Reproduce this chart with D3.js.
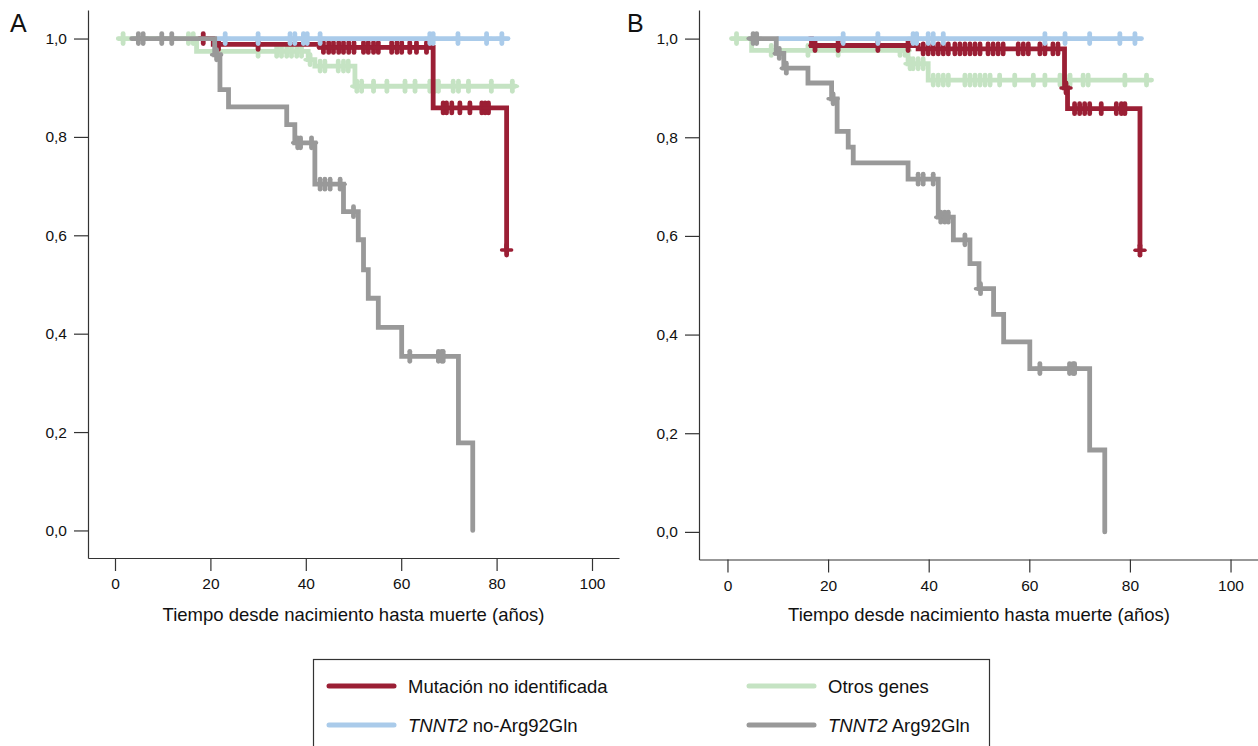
<!DOCTYPE html>
<html><head><meta charset="utf-8">
<script src="https://cdn.jsdelivr.net/npm/d3@7"></script>
<style>
body{margin:0;background:#fff;}
svg{display:block;font-family:Arial,"Liberation Sans",Helvetica,sans-serif;}
</style></head>
<body><svg id="c" width="1258" height="746"></svg>
<script>
// ---------- DATA ----------
const xTicks = [0, 20, 40, 60, 80, 100];
const yTicks = [0, 0.2, 0.4, 0.6, 0.8, 1.0];
const groupNames = ["Mutación no identificada", "Otros genes", "TNNT2 no-Arg92Gln", "TNNT2 Arg92Gln"];
const xTitle = "Tiempo desde nacimiento hasta muerte (años)";

// Panel A
const A_mut_t = [17.8, 20.6, 43.0, 66.7, 82.1];
const A_mut_s = [1.0, 0.988, 0.982, 0.859, 0.570];
const A_mut_end = 82.1;
const A_mut_c = [18.5, 21.7, 30.0, 43.7, 44.8, 45.8, 46.9, 47.9, 49.0, 50.1, 52.1, 53.1, 54.2, 55.2, 58.0, 59.1, 60.1, 61.8, 63.2, 65.3, 68.8, 69.5, 70.6, 72.3, 74.4, 76.9, 77.6, 78.3, 82.1];

const A_oth_t = [0.7, 17.1, 40.5, 41.9, 50.3];
const A_oth_s = [1.0, 0.974, 0.957, 0.944, 0.903];
const A_oth_end = 83.9;
const A_oth_c = [1.7, 15.4, 16.4, 30.0, 33.9, 34.9, 36.0, 37.0, 38.1, 39.1, 40.9, 43.0, 44.0, 46.8, 47.9, 48.9, 50.7, 51.7, 54.2, 57.0, 60.8, 62.9, 66.0, 67.1, 67.8, 70.9, 72.0, 74.1, 78.9, 83.3];

const A_tno_t = [21.3];
const A_tno_s = [1.0];
const A_tno_end = 82.4;
const A_tno_c = [23.1, 30.0, 36.7, 37.7, 39.5, 40.3, 43.0, 66.0, 66.7, 71.9, 77.9, 81.1];

const A_targ_t = [3.5, 20.9, 22.0, 23.8, 36.0, 37.7, 41.9, 47.9, 51.0, 52.1, 53.1, 55.2, 60.1, 72.0, 75.0];
const A_targ_s = [1.0, 0.967, 0.896, 0.861, 0.825, 0.788, 0.704, 0.648, 0.591, 0.530, 0.472, 0.413, 0.354, 0.178, 0.0];
const A_targ_end = 75.0;
const A_targ_c = [4.9, 5.9, 9.8, 11.9, 21.3, 38.3, 38.9, 41.2, 43.0, 44.0, 45.1, 47.2, 50.0, 61.8, 67.8, 68.5, 68.8];

// Panel B
const B_mut_t = [16.4, 16.7, 37.9, 67.0, 67.6, 82.0];
const B_mut_s = [1.0, 0.986, 0.979, 0.900, 0.858, 0.571];
const B_mut_end = 82.0;
const B_mut_c = [17.4, 22.0, 29.9, 35.9, 38.9, 39.9, 40.9, 41.9, 42.9, 43.9, 45.2, 46.2, 47.2, 48.2, 49.2, 50.2, 51.8, 52.8, 53.8, 54.8, 57.8, 58.8, 59.8, 62.1, 63.1, 64.7, 65.7, 67.3, 69.0, 70.0, 71.0, 72.0, 74.3, 77.3, 78.3, 79.0, 82.0];

const B_oth_t = [0.8, 4.8, 35.9, 39.9];
const B_oth_s = [1.0, 0.976, 0.949, 0.916];
const B_oth_end = 84.3;
const B_oth_c = [1.8, 8.7, 16.0, 22.0, 34.3, 35.3, 36.3, 36.9, 37.9, 38.9, 40.9, 41.9, 42.9, 43.9, 47.2, 48.2, 49.2, 50.2, 51.2, 52.2, 54.1, 57.1, 60.8, 63.1, 66.1, 67.1, 68.1, 70.7, 71.7, 79.0, 83.3];

const B_tno_t = [10.1];
const B_tno_s = [1.0];
const B_tno_end = 82.3;
const B_tno_c = [23.0, 29.9, 36.9, 37.6, 39.9, 40.9, 42.9, 63.1, 67.1, 72.0, 78.0, 81.0];

const B_targ_t = [4.4, 9.7, 11.2, 16.0, 20.7, 21.8, 24.0, 25.0, 35.9, 41.9, 44.9, 48.2, 50.0, 52.9, 54.9, 60.1, 72.0, 75.0];
const B_targ_s = [1.0, 0.970, 0.940, 0.910, 0.878, 0.812, 0.780, 0.748, 0.715, 0.638, 0.592, 0.544, 0.493, 0.441, 0.385, 0.331, 0.166, 0.0];
const B_targ_end = 75.0;
const B_targ_c = [5.1, 5.8, 10.3, 11.7, 21.0, 37.9, 38.9, 40.9, 42.4, 43.2, 43.9, 47.2, 50.3, 62.1, 68.0, 68.7, 69.0];

// ---------- STYLE ----------
const colors = {mut: "#9b1f35", oth: "#c5e3c3", tno: "#aacbea", targ: "#999999"};
const svg = d3.select("#c");
const FONT = "Arial, 'Liberation Sans', Helvetica, sans-serif";
const LW = 4.8;

function panel(label, labelX, xr, yr, series) {
  const x = d3.scaleLinear().domain([-5.66, 105.66]).range(xr);
  const y = d3.scaleLinear().domain([-0.056, 1.058]).range(yr);
  const g = svg.append("g");

  const yAxis = d3.axisLeft(y).tickValues(yTicks).tickSize(14).tickSizeOuter(0).tickPadding(7)
      .tickFormat(d => d.toFixed(1).replace(".", ","));
  const gy = g.append("g").attr("transform", `translate(${xr[0]},0)`).call(yAxis);
  const xAxis = d3.axisBottom(x).tickValues(xTicks).tickSize(13).tickSizeOuter(0).tickPadding(7);
  const gx = g.append("g").attr("transform", `translate(0,${yr[0]})`).call(xAxis);
  [gx, gy].forEach(a => {
    a.selectAll("path,line").attr("stroke", "#333").attr("stroke-width", 1.2);
    a.selectAll("text").attr("font-size", 15.5).attr("font-family", FONT).attr("fill", "#111");
  });

  g.append("text").attr("x", (xr[0] + xr[1]) / 2).attr("y", 621).attr("text-anchor", "middle")
    .attr("font-size", 18.5).attr("font-family", FONT).attr("fill", "#111").text(xTitle);
  g.append("text").attr("x", labelX).attr("y", 32).attr("font-size", 25)
    .attr("font-family", FONT).attr("fill", "#111").text(label);

  const line = d3.line().x(d => x(d[0])).y(d => y(d[1])).curve(d3.curveStepAfter);
  series.forEach(s => {
    const pts = s.t.map((t, i) => [t, s.s[i]]);
    const last = pts[pts.length - 1];
    if (s.end > last[0]) pts.push([s.end, last[1]]);
    g.append("path").attr("d", line(pts)).attr("fill", "none").attr("stroke", s.color)
      .attr("stroke-width", LW).attr("stroke-linejoin", "miter").attr("stroke-linecap", "round");
    const surv = t => { let v = s.s[0]; s.t.forEach((tt, i) => { if (t >= tt) v = s.s[i]; }); return v; };
    const cg = g.append("g");
    cg.selectAll("line.v").data(s.c).join("line").attr("class", "v")
      .attr("x1", d => x(d)).attr("x2", d => x(d))
      .attr("y1", d => y(surv(d)) - 5).attr("y2", d => y(surv(d)) + 5)
      .attr("stroke", s.color).attr("stroke-width", LW).attr("stroke-linecap", "round");
    cg.selectAll("line.h").data(s.c).join("line").attr("class", "h")
      .attr("x1", d => x(d) - 5).attr("x2", d => x(d) + 5)
      .attr("y1", d => y(surv(d))).attr("y2", d => y(surv(d)))
      .attr("stroke", s.color).attr("stroke-width", 3.5).attr("stroke-linecap", "round");
  });
}

panel("A", 10, [88, 619], [558, 10], [
  {t: A_oth_t, s: A_oth_s, c: A_oth_c, end: A_oth_end, color: colors.oth},
  {t: A_mut_t, s: A_mut_s, c: A_mut_c, end: A_mut_end, color: colors.mut},
  {t: A_tno_t, s: A_tno_s, c: A_tno_c, end: A_tno_end, color: colors.tno},
  {t: A_targ_t, s: A_targ_s, c: A_targ_c, end: A_targ_end, color: colors.targ}
]);
panel("B", 627, [699, 1259], [559.5, 10], [
  {t: B_oth_t, s: B_oth_s, c: B_oth_c, end: B_oth_end, color: colors.oth},
  {t: B_mut_t, s: B_mut_s, c: B_mut_c, end: B_mut_end, color: colors.mut},
  {t: B_tno_t, s: B_tno_s, c: B_tno_c, end: B_tno_end, color: colors.tno},
  {t: B_targ_t, s: B_targ_s, c: B_targ_c, end: B_targ_end, color: colors.targ}
]);

// ---------- LEGEND ----------
const lg = svg.append("g");
lg.append("rect").attr("x", 313.5).attr("y", 659.5).attr("width", 676).attr("height", 100)
  .attr("fill", "none").attr("stroke", "#333").attr("stroke-width", 1.2);
const legendItems = [
  {name: groupNames[0], color: colors.mut, lx: 329, ly: 686, italic: null},
  {name: groupNames[1], color: colors.oth, lx: 749, ly: 686, italic: null},
  {name: groupNames[2], color: colors.tno, lx: 329, ly: 725, italic: "TNNT2"},
  {name: groupNames[3], color: colors.targ, lx: 749, ly: 725, italic: "TNNT2"}
];
legendItems.forEach(it => {
  lg.append("line").attr("x1", it.lx).attr("x2", it.lx + 65).attr("y1", it.ly).attr("y2", it.ly)
    .attr("stroke", it.color).attr("stroke-width", 5).attr("stroke-linecap", "round");
  const t = lg.append("text").attr("x", it.lx + 79).attr("y", it.ly + 7).attr("font-size", 18.5)
    .attr("font-family", FONT).attr("fill", "#111");
  if (it.italic) {
    t.append("tspan").attr("font-style", "italic").text(it.italic);
    t.append("tspan").text(it.name.slice(it.italic.length));
  } else t.text(it.name);
});
</script></body></html>
